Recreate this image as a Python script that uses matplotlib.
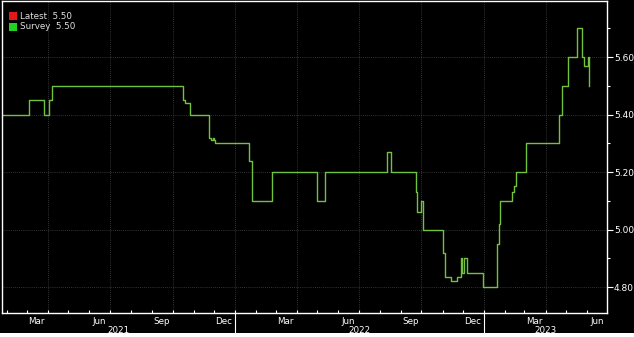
import numpy as np
import matplotlib
matplotlib.use("Agg")
import matplotlib.pyplot as plt
import matplotlib.dates as mdates
import matplotlib.transforms as mtransforms
from matplotlib.patches import Rectangle
from datetime import datetime

# step points of the survey series (date, value)
dates = ["2021-01-24", "2021-03-04", "2021-03-26", "2021-04-03", "2021-04-07",
         "2021-10-16", "2021-10-19", "2021-10-24", "2021-10-27", "2021-11-24",
         "2021-11-27", "2021-11-29", "2021-12-01", "2021-12-03", "2022-01-18",
         "2022-01-21", "2022-01-26", "2022-02-24", "2022-05-01", "2022-05-13",
         "2022-08-11", "2022-08-14", "2022-08-18", "2022-09-23", "2022-09-25",
         "2022-09-28", "2022-10-01", "2022-10-03", "2022-11-02", "2022-11-04",
         "2022-11-06", "2022-11-13", "2022-11-22", "2022-11-28", "2022-11-30",
         "2022-12-03", "2022-12-07", "2022-12-30", "2023-01-20", "2023-01-22",
         "2023-01-24", "2023-02-10", "2023-02-14", "2023-02-17", "2023-03-03",
         "2023-04-21", "2023-04-25", "2023-04-28", "2023-05-04", "2023-05-17",
         "2023-05-25", "2023-05-28", "2023-05-29", "2023-06-02", "2023-06-04"]
values = [5.40, 5.45, 5.40, 5.45, 5.50,
          5.45, 5.44, 5.44, 5.40, 5.32,
          5.31, 5.32, 5.31, 5.30, 5.30,
          5.24, 5.10, 5.20, 5.10, 5.20,
          5.27, 5.27, 5.20, 5.13, 5.06,
          5.06, 5.10, 5.00, 4.92, 4.835,
          4.835, 4.82, 4.835, 4.90, 4.85,
          4.90, 4.85, 4.80, 4.95, 5.02,
          5.10, 5.13, 5.15, 5.20, 5.30,
          5.40, 5.50, 5.50, 5.60, 5.70,
          5.60, 5.57, 5.57, 5.60, 5.50]

latest = 5.50
survey = 5.50
month_labels = ["Mar", "Jun", "Sep", "Dec"]
years = [2021, 2022, 2023]

x = [datetime.strptime(d, "%Y-%m-%d") for d in dates]
xmin = datetime(2021, 1, 24)
xmax = datetime(2023, 6, 30)

fig = plt.figure(figsize=(6.34, 3.37), dpi=100, facecolor="black")
ax = fig.add_axes([2/634, 24/337, 605/634, 312/337])
ax.set_facecolor("black")
fig.patches.append(Rectangle((0, 0), 1, 4/337, transform=fig.transFigure,
                             facecolor="white", edgecolor="none"))

ax.plot(x, values, drawstyle="steps-post", color="#72c23e", lw=1.0)

ax.set_xlim(xmin, xmax)
ax.set_ylim(4.71, 5.795)

# grid
for yv in [4.8, 5.0, 5.2, 5.4, 5.6]:
    ax.axhline(yv, color="#444444", lw=0.6, ls=(0, (1, 1.5)), zorder=0)
for q in ["2021-04-01", "2021-07-01", "2021-10-01", "2022-01-01", "2022-04-01",
          "2022-07-01", "2022-10-01", "2023-01-01", "2023-04-01"]:
    ax.axvline(datetime.strptime(q, "%Y-%m-%d"), color="#444444", lw=0.6,
               ls=(0, (1, 1.5)), zorder=0)

for s in ax.spines.values():
    s.set_color("white")
    s.set_linewidth(1.0)

# y axis on the right
ax.yaxis.tick_right()
ax.set_yticks([4.8, 5.0, 5.2, 5.4, 5.6])
ax.set_yticklabels(["4.80", "5.00", "5.20", "5.40", "5.60"])
ax.set_yticks([4.9, 5.1, 5.3, 5.5, 5.7], minor=True)
ax.tick_params(axis="y", which="major", colors="white", labelsize=6.5,
               length=4, width=0.8, pad=1)
ax.tick_params(axis="y", which="minor", colors="white", length=2.5, width=0.8)

# x axis: month ticks, labels drawn by hand
ax.xaxis.set_major_locator(mdates.MonthLocator())
ax.xaxis.set_minor_locator(mdates.MonthLocator(bymonth=[1]))
ax.tick_params(axis="x", which="major", direction="in", length=2.5,
               colors="white", width=0.8, labelbottom=False)
ax.tick_params(axis="x", which="minor", length=0)

trans = mtransforms.blended_transform_factory(ax.transData, ax.transAxes)
for yr in years:
    for m, lab in zip([3, 6, 9, 12], month_labels):
        d = datetime(yr, m, 15)
        if xmin <= d <= xmax:
            ax.text(d, -0.028, lab, transform=trans, color="white",
                    fontsize=6.3, ha="center", va="center", clip_on=False)
    lo = max(datetime(yr, 1, 1), xmin)
    hi = min(datetime(yr + 1, 1, 1), xmax)
    mid = lo + (hi - lo) / 2
    ax.text(mid, -0.055, str(yr), transform=trans, color="white",
            fontsize=6.3, ha="center", va="center", clip_on=False)
    if yr > years[0]:
        ax.plot([datetime(yr, 1, 1)] * 2, [0, -0.068], transform=trans,
                color="white", lw=0.8, clip_on=False)

# legend
ax.add_patch(Rectangle((0.012, 0.938), 0.013, 0.026, transform=ax.transAxes,
                       facecolor="#e01818", edgecolor="none"))
ax.add_patch(Rectangle((0.012, 0.905), 0.013, 0.026, transform=ax.transAxes,
                       facecolor="#22d022", edgecolor="none"))
ax.text(0.03, 0.951, "Latest  %.2f" % latest, transform=ax.transAxes,
        color="#e0e0e0", fontsize=6.3, va="center")
ax.text(0.03, 0.918, "Survey  %.2f" % survey, transform=ax.transAxes,
        color="#e0e0e0", fontsize=6.3, va="center")

fig.savefig("out.png", dpi=100, facecolor="black")
